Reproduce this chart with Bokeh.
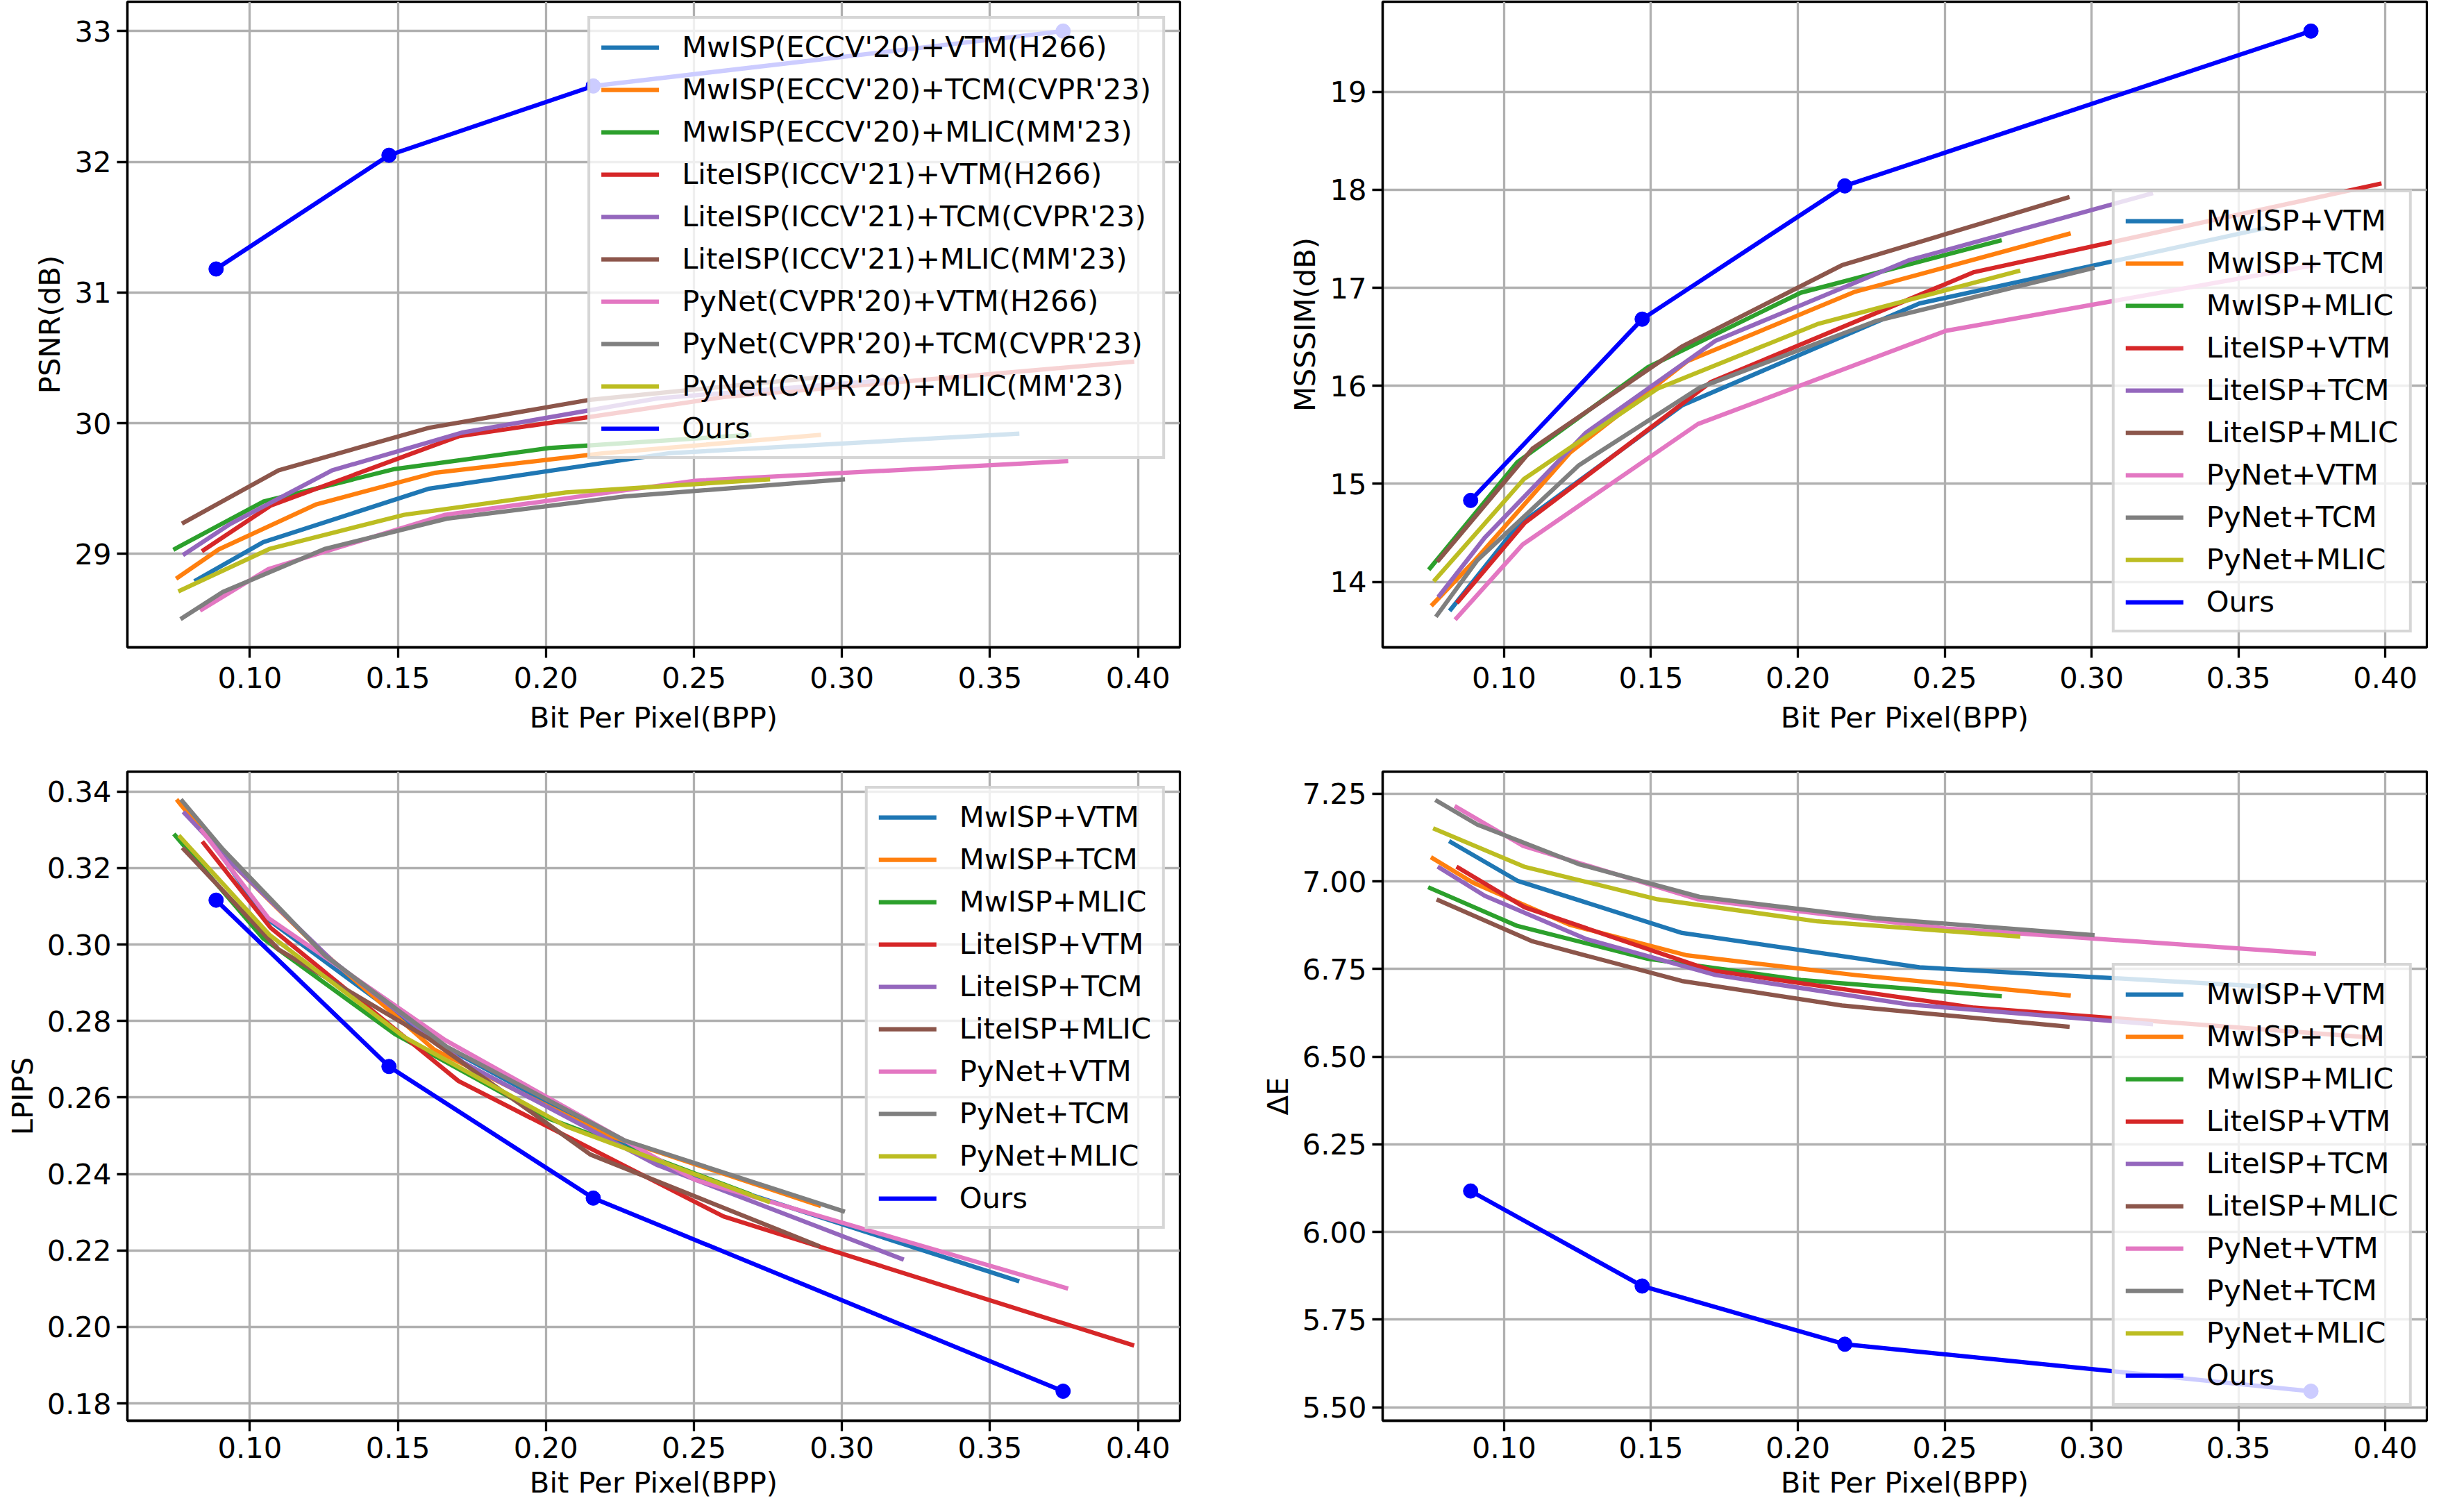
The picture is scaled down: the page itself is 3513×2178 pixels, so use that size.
from bokeh.plotting import figure
from bokeh.models import Legend, LegendItem, FixedTicker, PrintfTickFormatter, Range1d
from bokeh.layouts import column, row
from bokeh.embed import file_html
from bokeh.resources import INLINE

# ---------------- data ----------------
methods_long = ["MwISP(ECCV'20)+VTM(H266)", "MwISP(ECCV'20)+TCM(CVPR'23)", "MwISP(ECCV'20)+MLIC(MM'23)",
                "LiteISP(ICCV'21)+VTM(H266)", "LiteISP(ICCV'21)+TCM(CVPR'23)", "LiteISP(ICCV'21)+MLIC(MM'23)",
                "PyNet(CVPR'20)+VTM(H266)", "PyNet(CVPR'20)+TCM(CVPR'23)", "PyNet(CVPR'20)+MLIC(MM'23)", "Ours"]
methods_short = ["MwISP+VTM", "MwISP+TCM", "MwISP+MLIC", "LiteISP+VTM", "LiteISP+TCM", "LiteISP+MLIC",
                 "PyNet+VTM", "PyNet+TCM", "PyNet+MLIC", "Ours"]
colors = ["#1f77b4", "#ff7f0e", "#2ca02c", "#d62728", "#9467bd", "#8c564b",
          "#e377c2", "#7f7f7f", "#bcbd22", "#0000ff"]

bpp_mwisp_vtm = [0.0819, 0.1045, 0.1606, 0.2414, 0.3592]
bpp_mwisp_tcm = [0.0757, 0.0895, 0.1225, 0.1623, 0.2195, 0.2922]
bpp_mwisp_mlic = [0.0748, 0.1045, 0.1490, 0.2010, 0.2687]
bpp_liteisp_vtm = [0.0844, 0.1070, 0.1705, 0.2600, 0.3980]
bpp_liteisp_tcm = [0.0780, 0.0934, 0.1278, 0.1720, 0.2377, 0.3202]
bpp_liteisp_mlic = [0.0777, 0.1097, 0.1605, 0.2150, 0.2918]
bpp_pynet_vtm = [0.0838, 0.1063, 0.1660, 0.2503, 0.3757]
bpp_pynet_tcm = [0.0772, 0.0909, 0.1255, 0.1665, 0.2265, 0.3003]
bpp_pynet_mlic = [0.0765, 0.1068, 0.1522, 0.2067, 0.2750]
bpp_ours = [0.0886, 0.1470, 0.2160, 0.3747]

psnr_mwisp_vtm = [28.80, 29.09, 29.50, 29.77, 29.92]
psnr_mwisp_tcm = [28.82, 29.035, 29.38, 29.62, 29.77, 29.91]
psnr_mwisp_mlic = [29.04, 29.40, 29.65, 29.81, 29.91]
psnr_liteisp_vtm = [29.03, 29.37, 29.90, 30.20, 30.47]
psnr_liteisp_tcm = [29.00, 29.23, 29.64, 29.93, 30.19, 30.34]
psnr_liteisp_mlic = [29.24, 29.64, 29.965, 30.18, 30.35]
psnr_pynet_vtm = [28.575, 28.885, 29.30, 29.56, 29.71]
psnr_pynet_tcm = [28.51, 28.71, 29.04, 29.27, 29.44, 29.57]
psnr_pynet_mlic = [28.72, 29.04, 29.30, 29.47, 29.57]
psnr_ours = [31.18, 32.05, 32.58, 33.00]

ms_mwisp_vtm = [13.72, 14.57, 15.80, 16.84, 17.61]
ms_mwisp_tcm = [13.77, 14.20, 15.32, 16.25, 16.96, 17.55]
ms_mwisp_mlic = [14.14, 15.22, 16.19, 16.95, 17.48]
ms_liteisp_vtm = [13.80, 14.60, 16.04, 17.16, 18.06]
ms_liteisp_tcm = [13.86, 14.45, 15.52, 16.46, 17.28, 17.96]
ms_liteisp_mlic = [14.22, 15.36, 16.40, 17.23, 17.92]
ms_pynet_vtm = [13.63, 14.38, 15.61, 16.56, 17.23]
ms_pynet_tcm = [13.66, 14.22, 15.19, 15.98, 16.66, 17.20]
ms_pynet_mlic = [14.02, 15.05, 15.97, 16.63, 17.17]
ms_ours = [14.83, 16.68, 18.04, 19.62]

lp_mwisp_vtm = [0.3330, 0.3075, 0.2755, 0.2415, 0.2121]
lp_mwisp_tcm = [0.3375, 0.3245, 0.2995, 0.2725, 0.2505, 0.2318]
lp_mwisp_mlic = [0.3285, 0.3016, 0.2766, 0.2545, 0.2348]
lp_liteisp_vtm = [0.3265, 0.3044, 0.2643, 0.2289, 0.1953]
lp_liteisp_tcm = [0.3343, 0.3216, 0.2958, 0.2692, 0.2423, 0.2178]
lp_liteisp_mlic = [0.3249, 0.2987, 0.2754, 0.2451, 0.2213]
lp_pynet_vtm = [0.3298, 0.3069, 0.2750, 0.2385, 0.2102]
lp_pynet_tcm = [0.3375, 0.3249, 0.2970, 0.2733, 0.2488, 0.2303]
lp_pynet_mlic = [0.3281, 0.3024, 0.2758, 0.2525, 0.2328]
lp_ours = [0.3116, 0.2681, 0.2337, 0.1832]

de_mwisp_vtm = [7.112, 7.002, 6.853, 6.755, 6.700]
de_mwisp_tcm = [7.066, 6.996, 6.876, 6.789, 6.733, 6.675]
de_mwisp_mlic = [6.981, 6.873, 6.779, 6.719, 6.673]
de_liteisp_vtm = [7.039, 6.926, 6.746, 6.640, 6.553]
de_liteisp_tcm = [7.039, 6.959, 6.836, 6.733, 6.649, 6.593]
de_liteisp_mlic = [6.946, 6.829, 6.716, 6.646, 6.586]
de_pynet_vtm = [7.212, 7.102, 6.949, 6.866, 6.794]
de_pynet_tcm = [7.229, 7.162, 7.049, 6.956, 6.895, 6.847]
de_pynet_mlic = [7.149, 7.042, 6.949, 6.886, 6.843]
de_ours = [6.117, 5.846, 5.680, 5.546]

x_ticks = [0.10, 0.15, 0.20, 0.25, 0.30, 0.35, 0.40]
psnr_ticks = [29, 30, 31, 32, 33]
ms_ticks = [14, 15, 16, 17, 18, 19]
lp_ticks = [0.18, 0.20, 0.22, 0.24, 0.26, 0.28, 0.30, 0.32, 0.34]
de_ticks = [5.50, 5.75, 6.00, 6.25, 6.50, 6.75, 7.00, 7.25]

bpp_all = [bpp_mwisp_vtm, bpp_mwisp_tcm, bpp_mwisp_mlic, bpp_liteisp_vtm, bpp_liteisp_tcm,
           bpp_liteisp_mlic, bpp_pynet_vtm, bpp_pynet_tcm, bpp_pynet_mlic, bpp_ours]

FONT = "DejaVu Sans"
FS = "41.7px"
LW = 6.25


def padded(vals_lists):
    flat = [v for vs in vals_lists for v in vs]
    lo, hi = min(flat), max(flat)
    d = (hi - lo) * 0.05
    return Range1d(lo - d, hi + d)


def panel(ylabel, ys, yticks, yfmt, labels, loc, width, height, bl, br, bt, bb, xs1, xs2):
    p = figure(width=width, height=height, output_backend="svg", toolbar_location=None, title=None,
               x_range=padded(bpp_all), y_range=padded(ys),
               min_border_left=bl, min_border_right=br, min_border_top=bt, min_border_bottom=bb)
    p.background_fill_color = "white"
    p.border_fill_color = "white"
    p.outline_line_color = "black"
    p.outline_line_width = 3.3
    p.outline_line_alpha = 1.0
    for ax in (p.xaxis[0], p.yaxis[0]):
        ax.axis_line_width = 3.3
        ax.axis_line_color = "black"
        ax.major_tick_in = 0
        ax.major_tick_out = 15
        ax.major_tick_line_width = 3.3
        ax.minor_tick_line_color = None
        ax.major_label_text_font = FONT
        ax.major_label_text_font_size = FS
        ax.major_label_text_color = "black"
        ax.axis_label_text_font = FONT
        ax.axis_label_text_font_size = FS
        ax.axis_label_text_font_style = "normal"
        ax.axis_label_text_color = "black"
    p.xaxis[0].ticker = FixedTicker(ticks=x_ticks)
    p.xaxis[0].formatter = PrintfTickFormatter(format="%.2f")
    p.xaxis[0].axis_label = "Bit Per Pixel(BPP)"
    p.xaxis[0].major_label_standoff = xs1
    p.xaxis[0].axis_label_standoff = xs2
    p.yaxis[0].ticker = FixedTicker(ticks=yticks)
    p.yaxis[0].formatter = PrintfTickFormatter(format=yfmt)
    p.yaxis[0].axis_label = ylabel
    p.yaxis[0].major_label_standoff = 8
    p.yaxis[0].axis_label_standoff = 8
    for g in (p.xgrid[0], p.ygrid[0]):
        g.grid_line_color = "#b0b0b0"
        g.grid_line_width = 3.3
    p.xgrid[0].ticker = FixedTicker(ticks=x_ticks)
    p.ygrid[0].ticker = FixedTicker(ticks=yticks)

    items = []
    for i, (xs, yv) in enumerate(zip(bpp_all, ys)):
        r = p.line(xs, yv, line_color=colors[i], line_width=LW, line_join="round", line_cap="square")
        items.append(LegendItem(label=labels[i], renderers=[r]))
        if i == len(ys) - 1:
            p.scatter(xs, yv, size=21, marker="circle", fill_color=colors[i], line_color=colors[i])
    leg = Legend(items=items, location=loc, margin=21, padding=16, spacing=12,
                 glyph_width=83, glyph_height=42, label_height=42, label_standoff=33,
                 label_text_font=FONT, label_text_font_size=FS, label_text_color="black",
                 background_fill_color="white", background_fill_alpha=0.8,
                 border_line_color="#cccccc", border_line_width=4, border_line_alpha=0.8)
    p.add_layout(leg)
    return p


psnr_all = [psnr_mwisp_vtm, psnr_mwisp_tcm, psnr_mwisp_mlic, psnr_liteisp_vtm, psnr_liteisp_tcm,
            psnr_liteisp_mlic, psnr_pynet_vtm, psnr_pynet_tcm, psnr_pynet_mlic, psnr_ours]
ms_all = [ms_mwisp_vtm, ms_mwisp_tcm, ms_mwisp_mlic, ms_liteisp_vtm, ms_liteisp_tcm,
          ms_liteisp_mlic, ms_pynet_vtm, ms_pynet_tcm, ms_pynet_mlic, ms_ours]
lp_all = [lp_mwisp_vtm, lp_mwisp_tcm, lp_mwisp_mlic, lp_liteisp_vtm, lp_liteisp_tcm,
          lp_liteisp_mlic, lp_pynet_vtm, lp_pynet_tcm, lp_pynet_mlic, lp_ours]
de_all = [de_mwisp_vtm, de_mwisp_tcm, de_mwisp_mlic, de_liteisp_vtm, de_liteisp_tcm,
          de_liteisp_mlic, de_pynet_vtm, de_pynet_tcm, de_pynet_mlic, de_ours]

p1 = panel("PSNR(dB)", psnr_all, psnr_ticks, "%.0f", methods_long, "top_right",
           1709, 1092, 183, 10, 2, 160, 13, 15)
p2 = panel("MSSSIM(dB)", ms_all, ms_ticks, "%.0f", methods_short, "bottom_right",
           1788, 1092, 282, 2, 2, 160, 13, 15)
p3 = panel("LPIPS", lp_all, lp_ticks, "%.2f", methods_short, "top_right",
           1709, 1070, 183, 10, 19, 110, 8, 8)
p4 = panel("ΔE", de_all, de_ticks, "%.2f", methods_short, "bottom_right",
           1788, 1070, 282, 2, 19, 110, 8, 8)

layout = column(row(p1, p2), row(p3, p4))
open("out.html", "w").write(file_html(layout, INLINE))
